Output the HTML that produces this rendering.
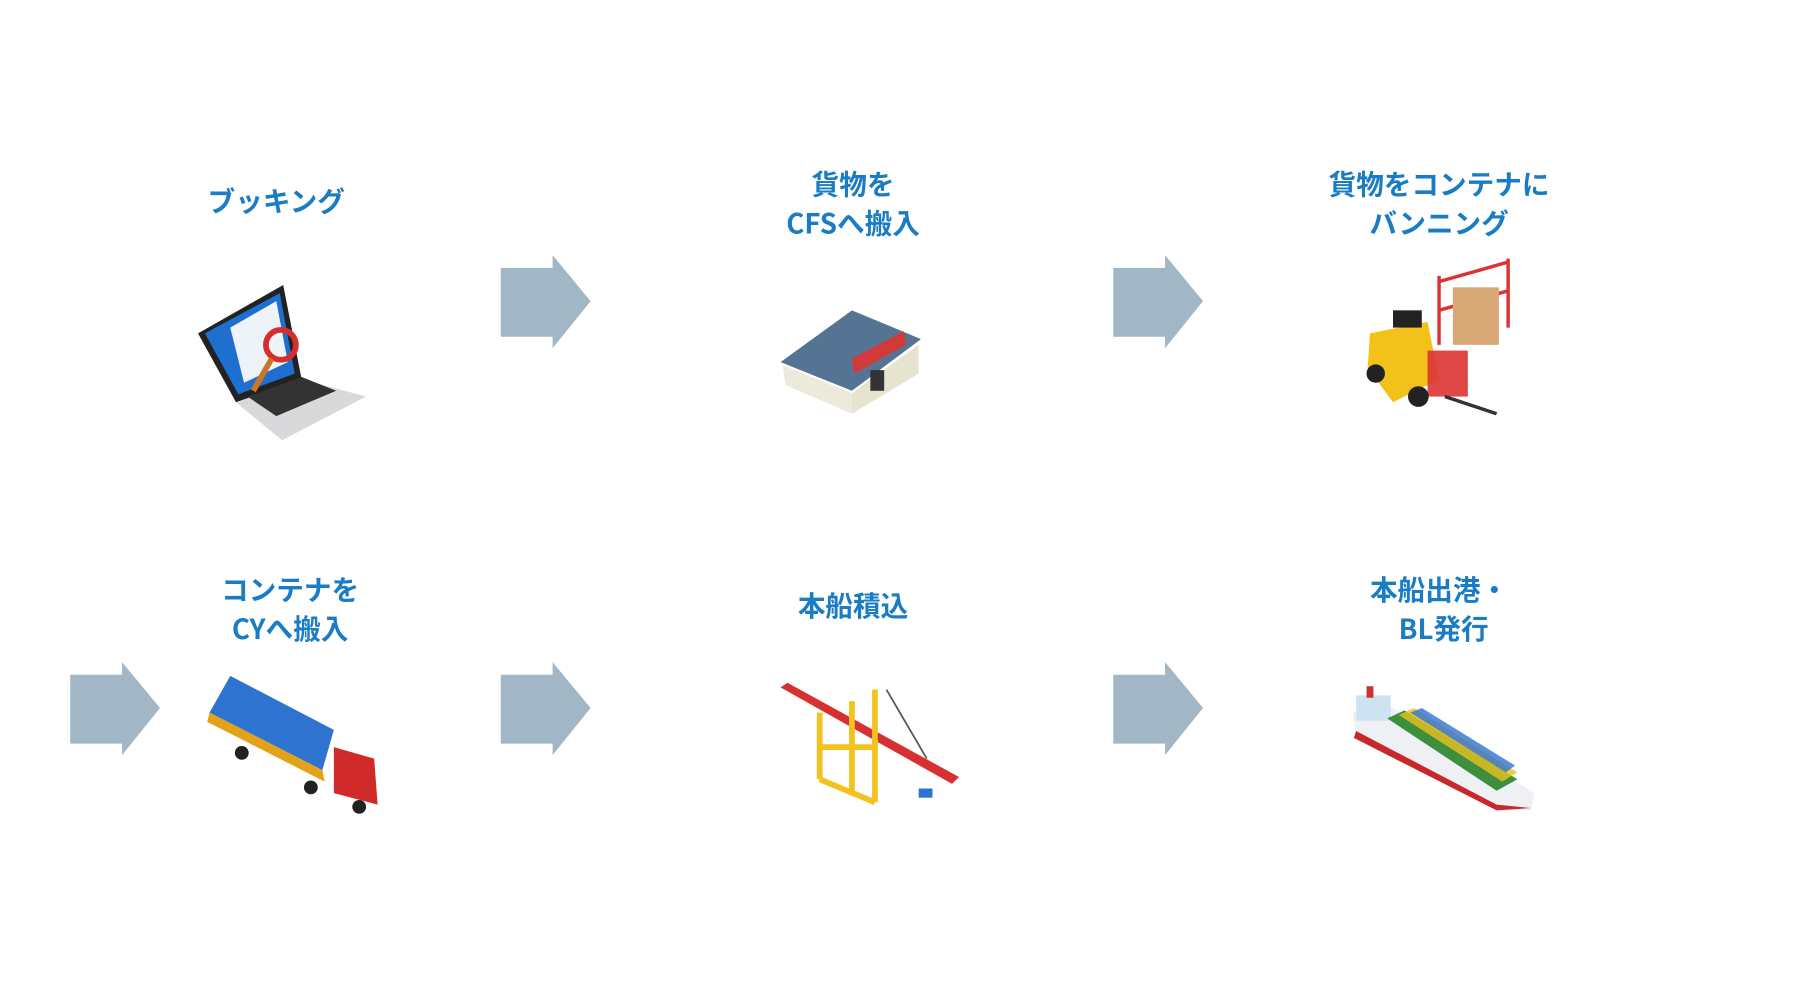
<!DOCTYPE html>
<html><head><meta charset="utf-8"><style>
html,body{margin:0;padding:0;background:#fff;width:1804px;height:1000px;overflow:hidden}
svg{display:block}
text{font-family:"Noto Sans CJK JP","Liberation Sans",sans-serif;font-weight:bold;fill:#1a7cc4;font-size:24px;text-anchor:middle}
</style></head><body>
<svg width="1804" height="1000" viewBox="0 0 1567 870" preserveAspectRatio="none">
<defs>
<g id="arr"><polygon points="0,11 45,11 45,0 78,40 45,81 45,71 0,71" fill="#a2b7c5"/></g>
</defs>
<text x="240" y="184">ブッキング</text>
<text x="741" y="169">貨物を</text><text x="741" y="203">CFSへ搬入</text>
<text x="1250" y="169">貨物をコンテナに</text><text x="1250" y="203">バンニング</text>
<text x="252" y="522">コンテナを</text><text x="252" y="556">CYへ搬入</text>
<text x="741" y="536">本船積込</text>
<text x="1250" y="522">本船出港・</text><text x="1254" y="556">BL発行</text>
<use href="#arr" x="435" y="222"/><use href="#arr" x="967" y="222"/>
<use href="#arr" x="61" y="576"/><use href="#arr" x="435" y="576"/><use href="#arr" x="967" y="576"/>
<polygon points="172,290 246,248 262,330 205,350" fill="#222"/>
<polygon points="178,290 243,255 256,325 207,343" fill="#1f6fd0"/>
<polygon points="200,285 240,262 250,315 212,333" fill="#eef3f8"/>
<circle cx="244" cy="300" r="13" fill="none" stroke="#d62e2e" stroke-width="5"/>
<line x1="236" y1="312" x2="220" y2="340" stroke="#c8772a" stroke-width="5"/>
<polygon points="205,350 262,330 318,345 245,383" fill="#d9d9dc"/>
<polygon points="215,345 262,328 292,340 240,362" fill="#333"/>
<polygon points="678,315 740,270 800,295 740,340" fill="#557494"/>
<polygon points="680,318 740,342 740,360 682,335" fill="#eceadb"/>
<polygon points="740,342 798,300 798,325 740,360" fill="#e6e3cf"/>
<polygon points="740,312 785,288 787,300 742,325" fill="#d23a3a"/>
<rect x="756" y="322" width="12" height="18" fill="#333"/>
<g stroke="#d33" stroke-width="3" fill="none"><line x1="1250" y1="240" x2="1250" y2="300"/><line x1="1310" y1="225" x2="1310" y2="285"/><line x1="1250" y1="245" x2="1310" y2="228"/><line x1="1250" y1="270" x2="1310" y2="253"/></g>
<rect x="1262" y="250" width="40" height="50" fill="#d9a877"/>
<polygon points="1190,290 1240,280 1250,330 1210,350 1188,320" fill="#f2c21a"/>
<rect x="1210" y="270" width="25" height="15" fill="#222"/>
<rect x="1240" y="305" width="35" height="40" fill="#d33" opacity=".9"/>
<circle cx="1195" cy="325" r="8" fill="#222"/><circle cx="1232" cy="345" r="9" fill="#222"/>
<line x1="1255" y1="345" x2="1300" y2="360" stroke="#333" stroke-width="3"/>
<polygon points="182,620 200,588 290,635 280,670" fill="#2f73d1"/>
<polygon points="182,620 280,670 282,680 180,628" fill="#e2a21a"/>
<polygon points="290,650 325,660 328,700 290,690" fill="#d12a2a"/>
<circle cx="270" cy="685" r="6" fill="#222"/><circle cx="312" cy="702" r="6" fill="#222"/><circle cx="210" cy="655" r="6" fill="#222"/>
<polygon points="678,598 684,594 833,676 827,682" fill="#d73030"/>
<g stroke="#f3c21e" stroke-width="5" fill="none"><line x1="712" y1="620" x2="712" y2="678"/><line x1="760" y1="600" x2="760" y2="698"/><line x1="740" y1="610" x2="740" y2="690"/><line x1="712" y1="650" x2="760" y2="650"/><line x1="712" y1="678" x2="760" y2="698"/></g>
<line x1="770" y1="600" x2="805" y2="660" stroke="#555" stroke-width="1.5"/>
<rect x="798" y="686" width="12" height="8" fill="#2f73d1"/>
<polygon points="1175,620 1200,610 1333,690 1330,705 1300,705 1178,640" fill="#eef0f3"/>
<polygon points="1178,636 1300,700 1330,703 1300,705 1176,642" fill="#c8282a"/>
<rect x="1178" y="605" width="30" height="22" fill="#cfe2f1"/>
<rect x="1187" y="597" width="6" height="10" fill="#c33"/>
<polygon points="1205,625 1220,618 1318,678 1300,688" fill="#3d8e3d"/>
<polygon points="1215,622 1228,616 1318,672 1305,680" fill="#e9c21e" opacity=".8"/>
<polygon points="1225,620 1235,616 1316,666 1308,672" fill="#2f73d1" opacity=".8"/>
</svg>
</body></html>
